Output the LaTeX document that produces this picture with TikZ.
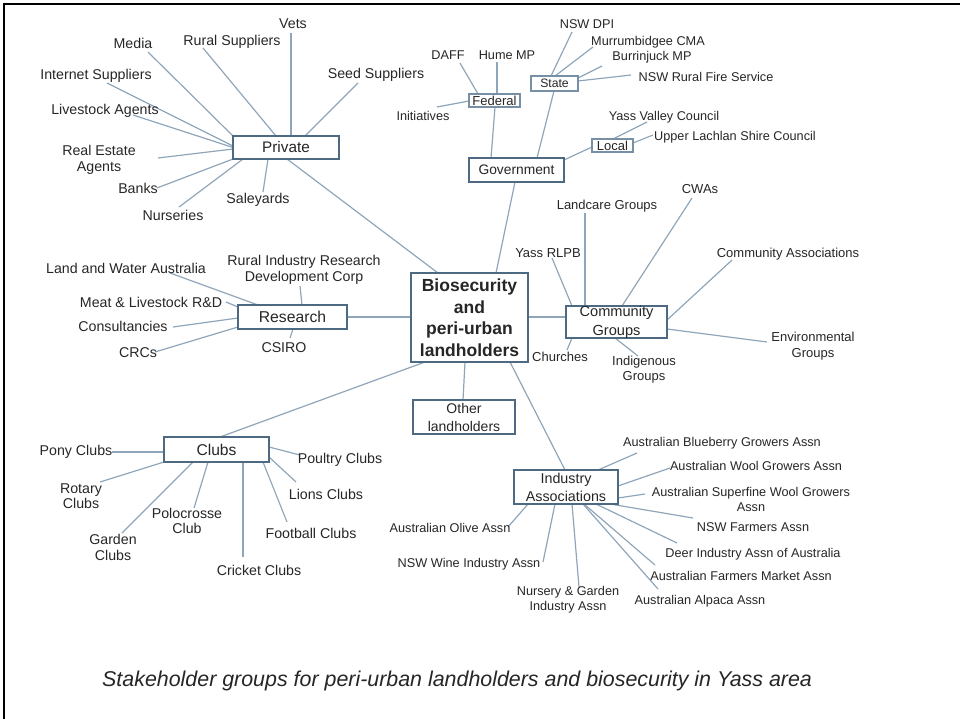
\documentclass[tikz,border=0pt]{standalone}
\usepackage{fontspec}
\setmainfont{Liberation Sans}
\usetikzlibrary{backgrounds}
\definecolor{txt}{HTML}{262626}
\definecolor{boxc}{HTML}{4D6A82}
\definecolor{sboxc}{HTML}{7890A6}
\definecolor{conn}{HTML}{8FA6BA}
\newcommand\cn[4]{\draw[conn] ([shift={(#2)}]#1.center) -- ([shift={(#4)}]#3.center);}
\tikzset{
  lab/.style={font=\fontsize{14.2}{16}\selectfont, text=txt, inner sep=0pt, align=center},
  labm/.style={font=\fontsize{13}{15}\selectfont, text=txt, inner sep=0pt, align=center},
  labs/.style={font=\fontsize{12.7}{15}\selectfont, text=txt, inner sep=0pt, align=center},
  grp/.style={draw=boxc, line width=1.8pt, fill=white, text=txt, inner sep=0pt, align=center},
  sgrp/.style={draw=sboxc, line width=1.1pt, fill=white, text=txt, inner sep=0pt, align=center},
  conn/.style={draw=conn, line width=1.2pt}
}
\begin{document}
\begin{tikzpicture}[x=1pt,y=-1pt]
\useasboundingbox (0,0) rectangle (960,719);
\draw[black, line width=2.5pt] (3,4) -- (960,4);
\draw[black, line width=2.5pt] (4.2,3) -- (4.2,719);

% central
\node[draw=boxc, line width=2.6pt, fill=white, text=txt, inner sep=0pt, align=center,
  minimum width=117pt, minimum height=89pt, font=\bfseries\fontsize{17.5}{21.5}\selectfont]
  (cen) at (469.5,317.5) {Biosecurity\\and\\peri-urban\\landholders};

% group boxes
\node[grp, minimum width=106pt, minimum height=23pt, font=\fontsize{15.3}{17}\selectfont] (priv) at (286,147.5) {Private};
\node[grp, minimum width=95pt, minimum height=24pt, font=\fontsize{13.8}{16}\selectfont] (gov) at (516.5,170) {Government};
\node[sgrp, minimum width=51pt, minimum height=13pt, font=\fontsize{13}{14}\selectfont] (fed) at (494.5,100.5) {Federal};
\node[sgrp, minimum width=47pt, minimum height=15pt, font=\fontsize{12.2}{14}\selectfont] (state) at (554.5,83.5) {State};
\node[sgrp, minimum width=41pt, minimum height=13pt, font=\fontsize{13}{14}\selectfont] (local) at (612.5,145.5) {Local};
\node[grp, minimum width=109pt, minimum height=24pt, font=\fontsize{15.7}{17}\selectfont] (res) at (292.5,317) {Research};
\node[grp, minimum width=101pt, minimum height=32pt, font=\fontsize{14.6}{18.5}\selectfont] (comm) at (616.5,322) {Community\\Groups};
\node[grp, minimum width=105pt, minimum height=25pt, font=\fontsize{15.6}{17}\selectfont] (clubs) at (216.5,449.5) {Clubs};
\node[grp, minimum width=102pt, minimum height=34pt, font=\fontsize{14}{18}\selectfont] (other) at (464,417) {Other\\landholders};
\node[grp, minimum width=104pt, minimum height=34pt, font=\fontsize{14.3}{18}\selectfont] (ind) at (566,487) {Industry\\Associations};

% private labels
\node[lab] (vets) at (293,24) {Vets};
\node[lab] (media) at (133,43) {Media};
\node[lab] (rural) at (232,42) {Rural Suppliers};
\node[lab] (seed) at (376,75) {Seed Suppliers};
\node[lab] (inet) at (96,76) {Internet Suppliers};
\node[lab] (live) at (105,111) {Livestock Agents};
\node[lab] (rea) at (99,160) {Real Estate\\Agents};
\node[lab] (banks) at (138,188) {Banks};
\node[lab] (nurs) at (173,215) {Nurseries};
\node[lab] (sale) at (258,200) {Saleyards};

% government labels
\node[labs] (daff) at (448,55) {DAFF};
\node[labs] (hume) at (507,55) {Hume MP};
\node[labs] (init) at (423,116) {Initiatives};
\node[labs] (dpi) at (587,24) {NSW DPI};
\node[labs] (murr) at (648,42) {Murrumbidgee CMA};
\node[labs] (burr) at (652,57) {Burrinjuck MP};
\node[labs] (rfs) at (706,77) {NSW Rural Fire Service};
\node[labs] (yvc) at (664,117) {Yass Valley Council};
\node[labs] (ulsc) at (735,137) {Upper Lachlan Shire Council};

% research labels
\node[lab] (lwa) at (126,268) {Land and Water Australia};
\node[lab] (rir) at (304,270) {Rural Industry Research\\Development Corp};
\node[lab] (meat) at (151,302) {Meat \& Livestock R\&D};
\node[lab] (cons) at (123,326) {Consultancies};
\node[lab] (crc) at (138,353) {CRCs};
\node[lab] (csiro) at (284,348) {CSIRO};

% community labels
\node[labm] (landc) at (607,206) {Landcare Groups};
\node[labm] (rlpb) at (548,253) {Yass RLPB};
\node[labm] (cwa) at (700,189) {CWAs};
\node[labm] (cass) at (788,254) {Community Associations};
\node[labm, font=\fontsize{13}{16}\selectfont] (env) at (813,346) {Environmental\\Groups};
\node[labm] (church) at (560,357) {Churches};
\node[labm] (indig) at (644,369.5) {Indigenous\\Groups};

% clubs labels
\node[lab] (pony) at (76,452) {Pony Clubs};
\node[lab, font=\fontsize{14.2}{15}\selectfont] (rot) at (81,496.5) {Rotary\\Clubs};
\node[lab] (gard) at (113,547) {Garden\\Clubs};
\node[lab, font=\fontsize{14.2}{15}\selectfont] (polo) at (187,520.5) {Polocrosse\\Club};
\node[lab] (crick) at (259,570) {Cricket Clubs};
\node[lab] (foot) at (311,533) {Football Clubs};
\node[lab] (lions) at (326,494) {Lions Clubs};
\node[lab] (poul) at (340,460) {Poultry Clubs};

% industry labels
\node[labs] (blue) at (722,443) {Australian Blueberry Growers Assn};
\node[labs] (wool) at (756,466) {Australian Wool Growers Assn};
\node[labs] (sup) at (751,499.5) {Australian Superfine Wool Growers\\Assn};
\node[labs] (nswf) at (753,527) {NSW Farmers Assn};
\node[labs] (deer) at (753,554) {Deer Industry Assn of Australia};
\node[labs] (fm) at (741,576) {Australian Farmers Market Assn};
\node[labs] (alp) at (700,601) {Australian Alpaca Assn};
\node[labs] (nurs2) at (568,599.5) {Nursery \& Garden\\Industry Assn};
\node[labs] (wine) at (469,564) {NSW Wine Industry Assn};
\node[labs] (olive) at (450,528) {Australian Olive Assn};

% caption
\node[anchor=base west, inner sep=0pt, text=txt, font=\itshape\fontsize{21.4}{24}\selectfont] (cap) at (102,686)
  {Stakeholder groups for peri-urban landholders and biosecurity in Yass area};

\begin{scope}[on background layer]
% hub connectors
\cn{priv}{1,11.5}{cen}{-31.5,-44.5}
\cn{gov}{-1.5,12}{cen}{26.5,-44.5}
\cn{res}{54.5,0}{cen}{-58.5,-0.5}
\cn{cen}{58.5,-0.5}{comm}{-50.5,-5}
\cn{clubs}{3.5,-12.5}{cen}{-44.5,44.5}
\cn{cen}{-4.5,44.5}{other}{-1,-17}
\cn{cen}{40.5,44.5}{ind}{-1,-17}
% private
\cn{vets}{-2,9}{priv}{5,-11.5}
\cn{media}{15,9}{priv}{-53,-11.5}
\cn{rural}{-29,6}{priv}{-10,-11.5}
\cn{seed}{-18,8}{priv}{19,-11.5}
\cn{inet}{11,7}{priv}{-53,-1.5}
\cn{live}{28,4}{priv}{-53,0}
\cn{rea}{59,-2}{priv}{-53,1.5}
\cn{banks}{19,0}{priv}{-53,11.5}
\cn{nurs}{6,-8}{priv}{-43,11.5}
\cn{sale}{5,-8}{priv}{-18,11.5}
% government
\cn{fed}{0.5,6.5}{gov}{-25.5,-12}
\cn{state}{-0.5,7.5}{gov}{20.5,-12}
\cn{local}{-20.5,1.5}{gov}{47.5,-10}
\cn{daff}{12,8}{fed}{-16.5,-6.5}
\cn{hume}{-10,7}{fed}{2.5,-6.5}
\cn{init}{14,-9}{fed}{-25.5,0.5}
\cn{dpi}{-15,8}{state}{-3.5,-7.5}
\cn{murr}{-55,5}{state}{0.5,-7.5}
\cn{burr}{-50,9}{state}{23.5,-5.5}
\cn{rfs}{-75,-2}{state}{23.5,-2.5}
\cn{yvc}{-17,5}{local}{0.5,-6.5}
\cn{ulsc}{-82,-2}{local}{20.5,-2.5}
% research
\cn{lwa}{44,5}{res}{-34.5,-12}
\cn{rir}{-4,16}{res}{9.5,-12}
\cn{meat}{75,0}{res}{-54.5,-10}
\cn{cons}{50,1}{res}{-54.5,1}
\cn{crc}{17,-1}{res}{-54.5,10}
\cn{csiro}{6,-10}{res}{0.5,12}
% community
\cn{landc}{-22,7}{comm}{-31.5,-16}
\cn{rlpb}{4,5}{comm}{-44.5,-16}
\cn{cwa}{-8,9}{comm}{5.5,-16}
\cn{cass}{-56,6}{comm}{50.5,-2}
\cn{env}{-46,-4}{comm}{50.5,7}
\cn{church}{7,-7}{comm}{-44.5,16}
\cn{indig}{-6,-13.5}{comm}{-1.5,16}
% clubs
\cn{pony}{36,0}{clubs}{-52.5,2.5}
\cn{rot}{19,-14.5}{clubs}{-52.5,12.5}
\cn{gard}{9,-14}{clubs}{-23.5,12.5}
\cn{polo}{7,-12.5}{clubs}{-8.5,12.5}
\cn{crick}{-16,-13}{clubs}{26.5,12.5}
\cn{foot}{-24,-11}{clubs}{46.5,12.5}
\cn{lions}{-30,-12}{clubs}{52.5,7.5}
\cn{poul}{-40,-5}{clubs}{52.5,-2.5}
% industry
\cn{blue}{-85,10}{ind}{32,-17}
\cn{wool}{-86,2}{ind}{52,-1}
\cn{sup}{-106,-5.5}{ind}{52,11}
\cn{nswf}{-60,-9}{ind}{44,17}
\cn{deer}{-76,-11}{ind}{30,17}
\cn{fm}{-86,-11}{ind}{18,17}
\cn{alp}{-42,-12}{ind}{17,17}
\cn{nurs2}{11,-12.5}{ind}{6,17}
\cn{wine}{74,-2}{ind}{-11,17}
\cn{olive}{58,-1}{ind}{-38,17}
\end{scope}
\end{tikzpicture}
\end{document}
